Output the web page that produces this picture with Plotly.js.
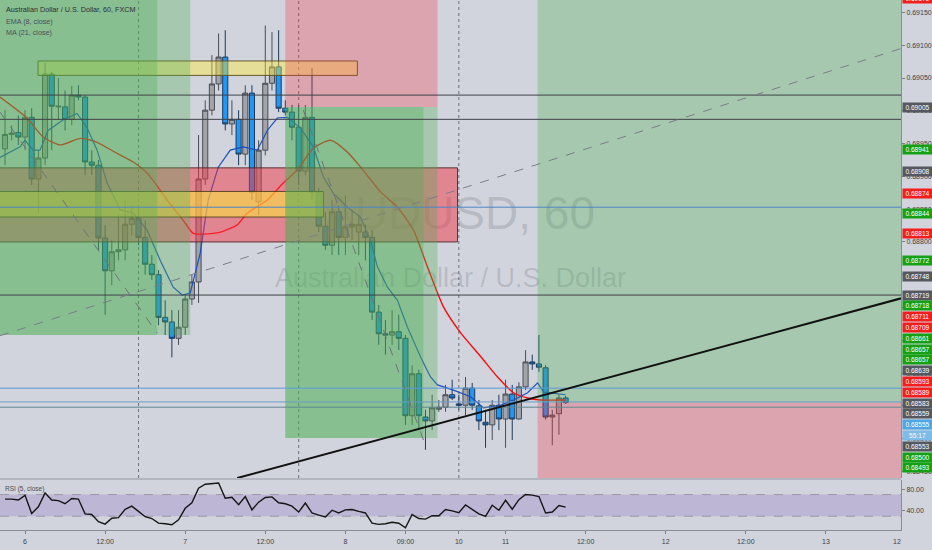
<!DOCTYPE html>
<html><head><meta charset="utf-8">
<script src="https://cdn.plot.ly/plotly-3.0.1.min.js"></script>
<style>html,body{margin:0;padding:0;background:#d1d4dc;}#chart{width:932px;height:550px;}</style>
</head><body><div id="chart"></div>
<script>
// ---- data (bar index 0 = day 6 00:00, 1 bar = 1 hour) ----
const firstBar = -3;
const openP  = [0.68942,0.68964,0.68967,0.68960,0.68990,0.68896,0.68928,0.69056,0.69006,0.69006,0.68987,0.69024,0.69021,0.68922,0.68917,0.68806,0.68756,0.68785,0.68788,0.68827,0.68836,0.68807,0.68766,0.68750,0.68685,0.68678,0.68653,0.68670,0.68713,0.68739,0.68896,0.69001,0.69041,0.69082,0.68980,0.68987,0.68934,0.69027,0.68861,0.68940,0.69042,0.69067,0.69004,0.68998,0.68975,0.68908,0.68990,0.68876,0.68824,0.68795,0.68846,0.68807,0.68823,0.68815,0.68815,0.68807,0.68693,0.68660,0.68658,0.68663,0.68653,0.68535,0.68599,0.68533,0.68527,0.68545,0.68548,0.68567,0.68553,0.68551,0.68577,0.68550,0.68525,0.68521,0.68551,0.68530,0.68568,0.68530,0.68579,0.68617,0.68614,0.68608,0.68533,0.68538,0.68562];
const highP  = [0.69001,0.68978,0.68993,0.69001,0.69004,0.68940,0.69073,0.69059,0.69050,0.69031,0.69038,0.69039,0.69024,0.68940,0.68925,0.68826,0.68803,0.68841,0.68864,0.68856,0.68856,0.68833,0.68780,0.68757,0.68711,0.68696,0.68696,0.68719,0.68750,0.68963,0.69016,0.69085,0.69118,0.69123,0.69016,0.69001,0.69039,0.69039,0.68955,0.69130,0.69120,0.69123,0.69016,0.69009,0.69009,0.69009,0.69065,0.68882,0.68846,0.68864,0.68856,0.68871,0.68849,0.68841,0.68826,0.68818,0.68704,0.68681,0.68696,0.68689,0.68658,0.68612,0.68605,0.68544,0.68567,0.68559,0.68582,0.68590,0.68567,0.68594,0.68585,0.68559,0.68544,0.68559,0.68567,0.68590,0.68582,0.68586,0.68635,0.68628,0.68658,0.68612,0.68544,0.68567,0.68565];
const lowP   = [0.68917,0.68955,0.68948,0.68940,0.68887,0.68844,0.68917,0.68940,0.68986,0.68970,0.68978,0.69016,0.68902,0.68902,0.68788,0.68689,0.68734,0.68772,0.68772,0.68810,0.68795,0.68750,0.68742,0.68673,0.68658,0.68624,0.68643,0.68658,0.68704,0.68707,0.68887,0.68993,0.69031,0.68970,0.68963,0.68917,0.68917,0.68864,0.68841,0.68932,0.69031,0.68998,0.68993,0.68955,0.68887,0.68902,0.68864,0.68815,0.68788,0.68780,0.68780,0.68780,0.68803,0.68780,0.68772,0.68681,0.68643,0.68628,0.68643,0.68635,0.68521,0.68521,0.68513,0.68483,0.68513,0.68541,0.68541,0.68559,0.68544,0.68536,0.68544,0.68513,0.68486,0.68498,0.68513,0.68486,0.68498,0.68529,0.68574,0.68605,0.68602,0.68529,0.68490,0.68506,0.68553];
const closeP = [0.68964,0.68966,0.68960,0.68990,0.68896,0.68928,0.69056,0.69007,0.69007,0.68987,0.69024,0.69021,0.68922,0.68917,0.68806,0.68756,0.68785,0.68788,0.68827,0.68836,0.68807,0.68766,0.68750,0.68685,0.68678,0.68653,0.68670,0.68713,0.68739,0.68896,0.69001,0.69041,0.69082,0.68980,0.68987,0.68934,0.69027,0.68876,0.68940,0.69042,0.69067,0.69004,0.68998,0.68975,0.68908,0.68990,0.68876,0.68824,0.68795,0.68846,0.68807,0.68823,0.68827,0.68827,0.68807,0.68693,0.68660,0.68658,0.68663,0.68653,0.68535,0.68599,0.68535,0.68527,0.68547,0.68548,0.68567,0.68562,0.68551,0.68577,0.68551,0.68527,0.68521,0.68551,0.68530,0.68568,0.68530,0.68579,0.68617,0.68614,0.68609,0.68533,0.68536,0.68562,0.68555];
const emaBars = [-3.75,-0.75,0,1.2,2.25,3.45,5.7,7.8,9.3,10.8,12.3,14.25,16.2,18.3,20.25,22.2,23.55,24.75,26.25,27.45,28.95,30.75,32.7,34.8,36.3,37.8,39.3,41.25,43.2,44.7,46.2,48.3,50.25,51.75,52.8,54.3,55.8,57.3,59.25,60.75,61.8,64.2,66.75,68.7,71.25,73.2,75.3,76.8,77.7,81];
const emaVals = [0.68929,0.68945,0.68955,0.68940,0.68940,0.68970,0.68986,0.68996,0.68974,0.68940,0.68890,0.68849,0.68844,0.68818,0.68772,0.68731,0.68719,0.68722,0.68783,0.68864,0.68914,0.68940,0.68945,0.68940,0.68970,0.68989,0.68990,0.68974,0.68945,0.68899,0.68874,0.68853,0.68838,0.68803,0.68762,0.68731,0.68711,0.68670,0.68625,0.68594,0.68582,0.68574,0.68564,0.68547,0.68551,0.68559,0.68570,0.68585,0.68571,0.68567];
const maBars = [-3.75,0.3,2.7,5.3,8.3,10.8,13.8,16.2,18.3,21.3,23.7,25.2,26.7,29.3,31.8,33.3,36.3,38.7,40.8,43.2,45.8,48.3,50.3,53.3,55.8,58.2,60.3,62.7,65.3,68.3,70.8,73.2,75.3,77.3,81];
const maVals = [0.69021,0.68989,0.68960,0.68948,0.68958,0.68952,0.68935,0.68922,0.68905,0.68864,0.68833,0.68813,0.68812,0.68815,0.68826,0.68844,0.68864,0.68890,0.68910,0.68943,0.68955,0.68937,0.68914,0.68876,0.68853,0.68818,0.68762,0.68701,0.68661,0.68625,0.68594,0.68570,0.68562,0.68559,0.68559];
const rsiVals = [61.7,61.7,60,68.6,34.9,47.4,73.1,60,58.9,53.1,62.9,61.7,34.3,33.1,20,15.4,26.3,27.4,42.9,48.6,38.9,29.1,25.7,17.1,16,14.3,23.4,44.6,54.9,81.7,89.1,90.3,91.4,63.4,65.1,51.4,66.3,41.7,56,64.6,65.7,54.9,53.1,48.6,37.7,54.3,36,32,28.6,41.1,36,41.7,42.3,38.9,36,17.1,14.9,16,18.9,17.1,8.6,33.1,25.7,24.6,30.9,30.9,42.3,40,36.6,50.9,42.9,34.3,29.7,50.3,41.1,59.4,42.9,60.6,70.3,69.1,66.3,36,37.7,49.7,46.9];
const timeTickBars = [0,12,24,36,48,57,65,72,84,96,108,120];
const timeTickText = ['6','12:00','7','12:00','8','09:00','10','11','12:00','12','12:00','13'];
const priceTicks = [0.6915,0.6910,0.6905,0.6900,0.6895,0.6890,0.6885,0.6880,0.6875,0.6870,0.6865,0.6860,0.6855,0.6850,0.6845];
const rsiTicks = [40,80];
const badgePrices = [0.69171,0.69005,0.68941,0.68908,0.68874,0.68844,0.68813,0.68772,0.68748,0.68719,0.68718,0.68711,0.68709,0.68661,0.68657,0.68657,0.68639,0.68593,0.68589,0.68583,0.68559,0.68555,0.68555,0.68553,0.68500,0.68493];
const badgeKinds  = ['red','gray','green','gray','red','green','red','green','gray','gray','green','red','red','green','green','green','gray','red','red','gray','gray','blue','timer','gray','green','green'];
const badgeLabels = ['0.69171','0.69005','0.68941','0.68908','0.68874','0.68844','0.68813','0.68772','0.68748','0.68719','0.68718','0.68711','0.68709','0.68661','0.68657','0.68657','0.68639','0.68593','0.68589','0.68583','0.68559','0.68555','55:17','0.68553','0.68500','0.68493'];

// ---- layout constants ----
const W = 932, H = 550, mR = 31, mB = 20;
const plotH = H - mB;          // 530
const mainBot = 478;           // px bottom of price pane
const rsiTop = 480;
const yMin = 0.68440, yMax = 0.69169;
const xMin = -3.75, xMax = 131.25;
const FONT = 'Liberation Sans, Arial, sans-serif';
const NARROW = 'Liberation Sans Narrow, Liberation Sans, Arial, sans-serif';
const pp = px => (plotH - px) / plotH; // pixel row -> paper y

const bars = openP.map((_, k) => firstBar + k);

const traces = [
  {type:'candlestick', x:bars, open:openP, high:highP, low:lowP, close:closeP,
   xaxis:'x', yaxis:'y', whiskerwidth:0,
   increasing:{fillcolor:'#a2a4aa', line:{color:'#4a4d55', width:1}},
   decreasing:{fillcolor:'#2196f3', line:{color:'#1d3a5e', width:1}},
   hoverinfo:'skip'},
  {type:'scatter', mode:'lines', x:maBars, y:maVals, xaxis:'x', yaxis:'y',
   line:{color:'#ff0a0a', width:1.4, shape:'spline', smoothing:0.6}, hoverinfo:'skip'},
  {type:'scatter', mode:'lines', x:emaBars, y:emaVals, xaxis:'x', yaxis:'y',
   line:{color:'#1a4fbf', width:1.2}, hoverinfo:'skip'},
  {type:'scatter', mode:'lines', x:bars, y:rsiVals, xaxis:'x', yaxis:'y2',
   line:{color:'#151515', width:1.4}, hoverinfo:'skip'}
];

const mainDom = [pp(mainBot), 1];
const shapes = [
  // watermark (behind everything)
  {type:'rect', xref:'paper', yref:'paper', x0:0.2, x1:0.82, y0:pp(236), y1:pp(182), layer:'below',
   fillcolor:'rgba(0,0,0,0)', line:{width:0},
   label:{text:'AUDUSD, 60', textposition:'middle center', font:{size:46, color:'rgba(120,123,134,0.28)', family:FONT}}},
  {type:'rect', xref:'paper', yref:'paper', x0:0.19, x1:0.81, y0:pp(290), y1:pp(260), layer:'below',
   fillcolor:'rgba(0,0,0,0)', line:{width:0},
   label:{text:'Australian Dollar / U.S. Dollar', textposition:'middle center', font:{size:27, color:'rgba(120,123,134,0.28)', family:FONT}}},
  // RSI band
  {type:'rect', xref:'paper', yref:'y2', x0:0, x1:1, y0:30, y1:70, layer:'below', fillcolor:'rgba(126,87,194,0.24)', line:{width:0}},
  {type:'line', xref:'paper', yref:'y2', x0:0, x1:1, y0:70, y1:70, layer:'below', line:{color:'#9a98a6', width:1, dash:'dash'}},
  {type:'line', xref:'paper', yref:'y2', x0:0, x1:1, y0:30, y1:30, layer:'below', line:{color:'#9a98a6', width:1, dash:'dash'}},
  // session breaks
  ...[17,41,65].map(b => ({type:'line', xref:'x', yref:'paper', x0:b, x1:b, y0:mainDom[0], y1:1, layer:'below', line:{color:'#6d7079', width:1, dash:'dot'}})),
  // zone boxes
  {type:'rect', xref:'x', yref:'y', x0:-10, x1:64.8, y0:0.68800, y1:0.68913, layer:'above', fillcolor:'rgba(242,54,69,0.50)', line:{color:'rgba(70,30,30,0.85)', width:1}},
  {type:'rect', xref:'x', yref:'y', x0:-10, x1:44.7, y0:0.68838, y1:0.68877, layer:'above', fillcolor:'rgba(255,235,59,0.55)', line:{color:'rgba(70,60,20,0.85)', width:1}},
  {type:'rect', xref:'x', yref:'y', x0:1.95, x1:49.8, y0:0.69054, y1:0.69076, layer:'above', fillcolor:'rgba(255,235,59,0.42)', line:{color:'rgba(90,75,20,0.9)', width:1}},
  // position tools
  {type:'rect', xref:'x', yref:'y', x0:-10, x1:24.75, y0:0.68658, y1:0.6950, layer:'above', fillcolor:'rgba(76,175,80,0.32)', line:{width:0}},
  {type:'rect', xref:'x', yref:'y', x0:-10, x1:19.8, y0:0.68658, y1:0.6950, layer:'above', fillcolor:'rgba(76,175,80,0.32)', line:{width:0}},
  {type:'rect', xref:'x', yref:'y', x0:39, x1:61.8, y0:0.69006, y1:0.6950, layer:'above', fillcolor:'rgba(242,54,69,0.30)', line:{width:0}},
  {type:'rect', xref:'x', yref:'y', x0:39, x1:61.8, y0:0.68501, y1:0.69006, layer:'above', fillcolor:'rgba(76,175,80,0.32)', line:{width:0}},
  {type:'rect', xref:'x', yref:'y', x0:39, x1:59.7, y0:0.68501, y1:0.69006, layer:'above', fillcolor:'rgba(76,175,80,0.32)', line:{width:0}},
  {type:'rect', xref:'x', yref:'y', x0:76.8, x1:140, y0:0.68555, y1:0.6950, layer:'above', fillcolor:'rgba(76,175,80,0.32)', line:{width:0}},
  {type:'rect', xref:'x', yref:'y', x0:76.8, x1:140, y0:0.6800, y1:0.68555, layer:'above', fillcolor:'rgba(242,54,69,0.30)', line:{width:0}},
  // horizontal levels
  ...[0.69024,0.68987,0.68719].map(v => ({type:'line', xref:'paper', yref:'y', x0:0, x1:1, y0:v, y1:v, layer:'above', line:{color:'#3f4148', width:1}})),
  {type:'line', xref:'paper', yref:'y', x0:0, x1:1, y0:0.68853, y1:0.68853, layer:'above', line:{color:'#4a86c5', width:1}},
  {type:'line', xref:'paper', yref:'y', x0:0, x1:1, y0:0.68577, y1:0.68577, layer:'above', line:{color:'#5b9ad8', width:1}},
  {type:'line', xref:'paper', yref:'y', x0:0, x1:1, y0:0.68556, y1:0.68556, layer:'above', line:{color:'#6a9cc8', width:1}},
  {type:'line', xref:'paper', yref:'y', x0:0, x1:1, y0:0.68548, y1:0.68548, layer:'above', line:{color:'#5f8790', width:1}},
  // trend line
  {type:'line', xref:'x', yref:'y', x0:31.8, x1:131.25, y0:0.68440, y1:0.68714, layer:'above', line:{color:'#111111', width:2}},
  // dashed path lines
  {type:'line', xref:'x', yref:'y', x0:-3.75, x1:131.25, y0:0.68657, y1:0.69095, layer:'above', line:{color:'#7b7e86', width:1, dash:'dash'}},
  {type:'line', xref:'x', yref:'y', x0:-3.75, x1:19.8, y0:0.68998, y1:0.68661, layer:'above', line:{color:'#6f727a', width:1, dash:'dash'}},
  {type:'line', xref:'x', yref:'y', x0:41.7, x1:59.7, y0:0.69001, y1:0.68498, layer:'above', line:{color:'#6f727a', width:1, dash:'dash'}},
  // pane separator
  {type:'line', xref:'paper', yref:'paper', x0:0, x1:1, y0:pp(479), y1:pp(479), layer:'above', line:{color:'#9598a1', width:1}}
];

const badgeColor = {red:'#f21e1e', green:'#16a016', gray:'#55585f', blue:'#4ea6e3', timer:'#7dbbe8'};
const annotations = [];
let prev = -1e9;
badgePrices.forEach((p, k) => {
  let py = (yMax - p) / (yMax - yMin) * mainBot;
  if (py < prev + 10.8) py = prev + 10.8;
  prev = py;
  annotations.push({xref:'paper', yref:'paper', x:1, y:pp(py), xanchor:'left', yanchor:'middle', xshift:1,
    text:badgeLabels[k], showarrow:false, bgcolor:badgeColor[badgeKinds[k]], width:29, height:9, borderpad:0,
    align:'center', font:{size:6.6, color:'#ffffff', family:FONT}});
});
annotations.push(
  {xref:'paper', yref:'paper', x:0.004, y:pp(10), xanchor:'left', yanchor:'middle', showarrow:false,
   text:'Australian Dollar / U.S. Dollar, 60, FXCM', font:{size:7.2, color:'#2a2e39', family:NARROW}},
  {xref:'paper', yref:'paper', x:0.004, y:pp(22), xanchor:'left', yanchor:'middle', showarrow:false,
   text:'EMA (8, close)', font:{size:7.2, color:'#4a4e59', family:NARROW}},
  {xref:'paper', yref:'paper', x:0.004, y:pp(33), xanchor:'left', yanchor:'middle', showarrow:false,
   text:'MA (21, close)', font:{size:7.2, color:'#4a4e59', family:NARROW}},
  {xref:'paper', yref:'paper', x:0.003, y:pp(489), xanchor:'left', yanchor:'middle', showarrow:false,
   text:'RSI (5, close)', font:{size:6.5, color:'#4a4e59', family:NARROW}},
  {xref:'paper', yref:'paper', x:1, y:pp(541), xanchor:'right', yanchor:'middle', xshift:2, showarrow:false,
   text:'12', font:{size:7, color:'#3c3f47', family:FONT}}
);

const layout = {
  width:W, height:H, margin:{l:0, r:mR, t:0, b:mB, pad:0},
  paper_bgcolor:'#d1d4dc', plot_bgcolor:'#d1d4dc', showlegend:false, hovermode:false,
  boxgap:0.1, boxgroupgap:0.15,
  font:{family:FONT, size:7, color:'#3c3f47'},
  xaxis:{range:[xMin, xMax], anchor:'y2', tickmode:'array', tickvals:timeTickBars, ticktext:timeTickText,
    ticks:'outside', ticklen:3, tickcolor:'#7b7e86', showgrid:false, zeroline:false, ticklabelstandoff:2,
    showline:true, linecolor:'#8a8d95', linewidth:1, rangeslider:{visible:false}, tickfont:{size:7}},
  yaxis:{domain:mainDom, range:[yMin, yMax], side:'right', anchor:'x', tickmode:'array',
    tickvals:priceTicks, ticktext:priceTicks.map(v => v.toFixed(5)), ticks:'outside', ticklen:3,
    tickcolor:'#7b7e86', showgrid:false, zeroline:false, showline:true, linecolor:'#8a8d95', tickfont:{size:7}},
  yaxis2:{domain:[0, pp(rsiTop)], range:[4.5, 97], side:'right', anchor:'x', tickmode:'array',
    tickvals:rsiTicks, ticktext:rsiTicks.map(v => v.toFixed(2)), ticks:'outside', ticklen:3,
    tickcolor:'#7b7e86', showgrid:false, zeroline:false, showline:true, linecolor:'#8a8d95', tickfont:{size:7}},
  shapes:shapes, annotations:annotations
};
Plotly.newPlot('chart', traces, layout, {staticPlot:true, displayModeBar:false});
</script>
</body></html>
